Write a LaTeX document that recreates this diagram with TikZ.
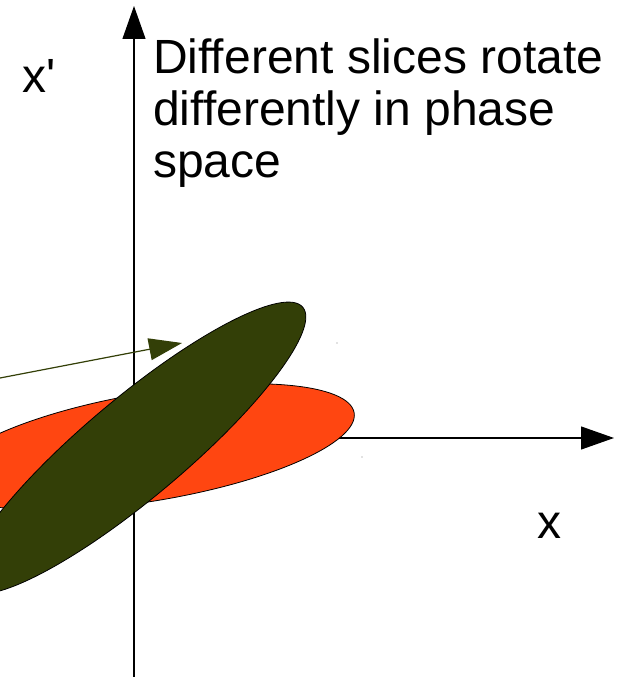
\documentclass[tikz,border=0pt]{standalone}
\usepackage{fontspec}
\setmainfont{Liberation Sans}
\usetikzlibrary{arrows.meta}
\definecolor{slicegreen}{RGB}{51,63,7}
\definecolor{sliceorange}{RGB}{255,70,17}
\begin{document}
\begin{tikzpicture}[x=1pt,y=1pt,
  axis/.style={line width=1.2pt, -{Triangle[length=33pt,width=23pt]}},
  lbl/.style={anchor=base west, inner sep=0pt, font=\fontsize{48}{52}\selectfont},
  slice/.style={draw=black, line width=0.8pt}]
\useasboundingbox (0,0) rectangle (622,677);
% axes
\coordinate (vb) at (134,0);
\coordinate (vt) at (134,671);
\coordinate (hb) at (134,239);
\coordinate (ht) at (614,239);
\draw[axis] (vb) -- (vt);
\draw[axis] (hb) -- (ht);
% slices
\fill[sliceorange, rotate around={9.5:(150,230)}] (150,230) ellipse [x radius=207, y radius=54];
\draw[slice, rotate around={9.5:(150,230)}] (150,230) ellipse [x radius=207, y radius=54];
\fill[slicegreen, rotate around={40:(135,229)}] (135,229) ellipse [x radius=219, y radius=50];
\draw[slice, rotate around={40:(135,229)}] (135,229) ellipse [x radius=219, y radius=50];
% arrow
\coordinate (as) at (0,299);
\coordinate (at) at (182,334);
\draw[slicegreen, line width=1.2pt, -{Triangle[length=33pt,width=22pt]}] (as) -- (at);
% specks
\fill[gray] (337,334) circle (0.7);
\fill[gray] (362,220) circle (0.7);
% labels
\node[lbl] (xp) at (22,584) {x\textquotesingle};
\node[lbl] (xl) at (537.5,138) {x};
\node[lbl] (t1) at (153,603) {Different slices rotate};
\node[lbl] (t2) at (153,551) {differently in phase};
\node[lbl] (t3) at (153,499) {space};
\end{tikzpicture}
\end{document}
